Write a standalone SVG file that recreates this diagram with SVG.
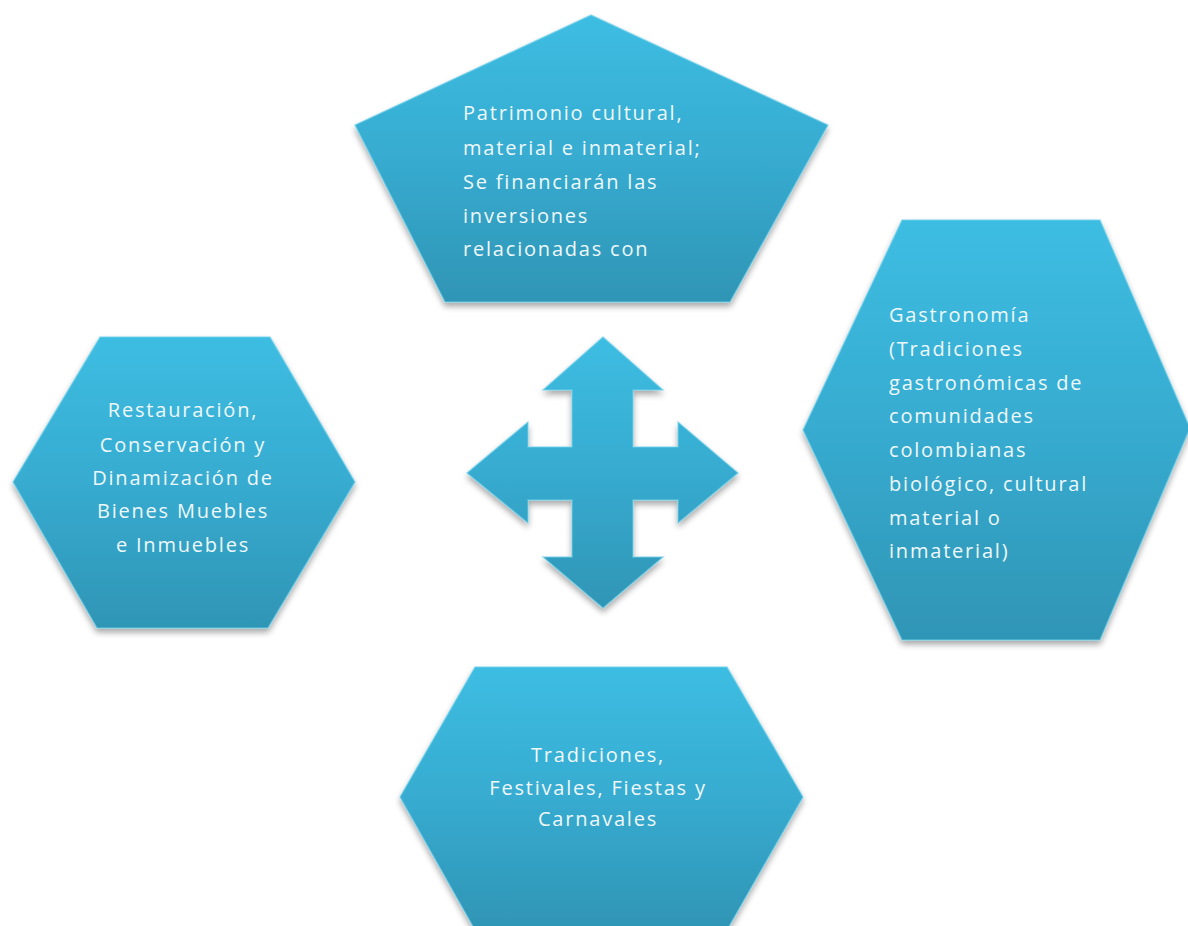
<svg xmlns="http://www.w3.org/2000/svg" width="1188" height="926" viewBox="0 0 1188 926">
<defs>
<linearGradient id="g" x1="0" y1="0" x2="0" y2="1">
<stop offset="0" stop-color="#3DBDE2"/>
<stop offset="0.5" stop-color="#37ABD0"/>
<stop offset="1" stop-color="#2F95B5"/>
</linearGradient>
<filter id="sh" x="-10%" y="-10%" width="120%" height="125%">
<feGaussianBlur in="SourceAlpha" stdDeviation="3"/>
<feOffset dx="0" dy="4" result="b"/>
<feComponentTransfer><feFuncA type="linear" slope="0.35"/></feComponentTransfer>
<feMerge><feMergeNode/><feMergeNode in="SourceGraphic"/></feMerge>
</filter>
<style>
.s{fill:url(#g);stroke:#6fd0ea;stroke-width:1.5;stroke-opacity:0.6;filter:url(#sh)}
.t{font-family:"Open Sans","DejaVu Sans",sans-serif;font-size:20px;fill:#EEF8FB;letter-spacing:1.8px}
.c{text-anchor:middle}
</style>
</defs>
<rect width="1188" height="926" fill="#ffffff"/>
<g id="center-arrow">
<polygon class="s" points="603,337 663,390 633,390 633,447 678,447 678,422 738,473 678,523 678,500 633,500 633,557 663,557 603,608 543,557 572,557 572,500 528,500 528,523 467,473 528,422 528,447 572,447 572,390 543,390"/>
</g>
<g id="node-top">
<polygon class="s" points="591,15 828,125 730,302 445,302 355,125"/>
<text class="t" x="463" y="120">Patrimonio cultural,</text>
<text class="t" x="463" y="155">material e inmaterial;</text>
<text class="t" x="463" y="189">Se financiarán las</text>
<text class="t" x="463" y="223">inversiones</text>
<text class="t" x="463" y="256">relacionadas con</text>
</g>
<g id="node-left">
<polygon class="s" points="100,337 270,337 355,482 268,628 97,628 13,482"/>
<text class="t c" x="183" y="417">Restauración,</text>
<text class="t c" x="183" y="452">Conservación y</text>
<text class="t c" x="183" y="485">Dinamización de</text>
<text class="t c" x="183" y="518">Bienes Muebles</text>
<text class="t c" x="183" y="552">e Inmuebles</text>
</g>
<g id="node-right">
<polygon class="s" points="902,220 1100,220 1190,428 1100,640 902,640 803,430"/>
<text class="t" x="889" y="322">Gastronomía</text>
<text class="t" x="889" y="356">(Tradiciones</text>
<text class="t" x="889" y="390">gastronómicas de</text>
<text class="t" x="889" y="423">comunidades</text>
<text class="t" x="889" y="457">colombianas</text>
<text class="t" x="889" y="491">biológico, cultural</text>
<text class="t" x="889" y="525">material o</text>
<text class="t" x="889" y="558">inmaterial)</text>
</g>
<g id="node-bottom">
<polygon class="s" points="475,667 727,667 803,797 727,930 475,930 400,797"/>
<text class="t c" x="598" y="762">Tradiciones,</text>
<text class="t c" x="598" y="795">Festivales, Fiestas y</text>
<text class="t c" x="598" y="826">Carnavales</text>
</g>
<g id="connectors"></g>
</svg>
